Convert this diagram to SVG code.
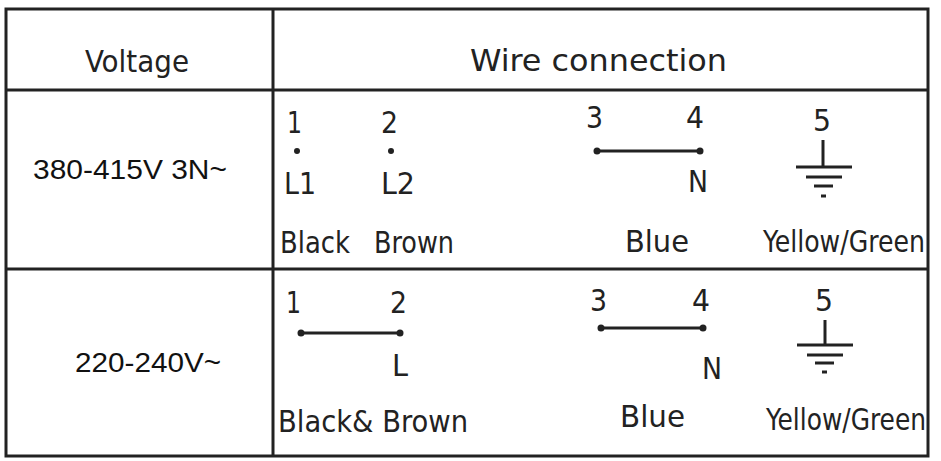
<svg xmlns="http://www.w3.org/2000/svg" width="941" height="461" viewBox="0 0 941 461">
<style>
.c{font-family:"DejaVu Sans Condensed","DejaVu Sans",sans-serif;font-size:30px;fill:#222}
.a{font-family:"Liberation Sans",Arial,sans-serif;font-size:27px;fill:#111}
.w{stroke:#222;stroke-width:3;fill:none}
.g{stroke:#222;stroke-width:3}
</style>
<rect width="941" height="461" fill="#fff"/>
<g id="table" stroke="#222" fill="none">
<rect x="6" y="9" width="922" height="447" stroke-width="3"/>
<line x1="273" y1="9" x2="273" y2="456" stroke-width="3"/>
<line x1="6" y1="90" x2="928" y2="90" stroke-width="3"/>
<line x1="6" y1="269" x2="928" y2="269" stroke-width="3"/>
</g>
<g id="header">
<text class="c" x="85" y="72" textLength="104" lengthAdjust="spacingAndGlyphs">Voltage</text>
<text class="c" x="470" y="71" textLength="257" lengthAdjust="spacingAndGlyphs">Wire  connection</text>
</g>
<g id="row1">
<text class="a" x="33" y="179" textLength="194" lengthAdjust="spacingAndGlyphs">380-415V 3N~</text>
<text class="c" x="287" y="133" textLength="15" lengthAdjust="spacingAndGlyphs">1</text>
<text class="c" x="381" y="133" textLength="17" lengthAdjust="spacingAndGlyphs">2</text>
<circle cx="297" cy="151" r="3" fill="#222"/>
<circle cx="391" cy="151" r="3" fill="#222"/>
<text class="c" x="284" y="194" textLength="32" lengthAdjust="spacingAndGlyphs">L1</text>
<text class="c" x="381" y="194" textLength="34" lengthAdjust="spacingAndGlyphs">L2</text>
<text class="c" x="280" y="253" textLength="70" lengthAdjust="spacingAndGlyphs">Black</text>
<text class="c" x="374" y="253" textLength="80" lengthAdjust="spacingAndGlyphs">Brown</text>
<text class="c" x="586" y="128" textLength="17" lengthAdjust="spacingAndGlyphs">3</text>
<text class="c" x="686" y="128" textLength="18" lengthAdjust="spacingAndGlyphs">4</text>
<text class="c" x="688" y="192" textLength="20" lengthAdjust="spacingAndGlyphs">N</text>
<text class="c" x="625" y="252" textLength="64" lengthAdjust="spacingAndGlyphs">Blue</text>
<text class="c" x="813" y="131" textLength="18" lengthAdjust="spacingAndGlyphs">5</text>
<text class="c" x="763" y="252" textLength="162" lengthAdjust="spacingAndGlyphs">Yellow/Green</text>
</g>
<g id="row2">
<text class="a" x="75" y="372" textLength="146" lengthAdjust="spacingAndGlyphs">220-240V~</text>
<text class="c" x="286" y="313" textLength="15" lengthAdjust="spacingAndGlyphs">1</text>
<text class="c" x="390" y="313" textLength="17" lengthAdjust="spacingAndGlyphs">2</text>
<text class="c" x="392" y="376" textLength="16" lengthAdjust="spacingAndGlyphs">L</text>
<text class="c" x="278" y="432" textLength="190" lengthAdjust="spacingAndGlyphs">Black&amp; Brown</text>
<text class="c" x="590" y="311" textLength="17" lengthAdjust="spacingAndGlyphs">3</text>
<text class="c" x="692" y="311" textLength="18" lengthAdjust="spacingAndGlyphs">4</text>
<text class="c" x="702" y="379" textLength="20" lengthAdjust="spacingAndGlyphs">N</text>
<text class="c" x="620" y="427" textLength="65" lengthAdjust="spacingAndGlyphs">Blue</text>
<text class="c" x="815" y="311" textLength="18" lengthAdjust="spacingAndGlyphs">5</text>
<text class="c" x="766" y="430" textLength="160" lengthAdjust="spacingAndGlyphs">Yellow/Green</text>
</g>
<g id="connectors">
<line class="w" x1="597" y1="151" x2="700" y2="151"/>
<circle cx="597" cy="151" r="3.5" fill="#222"/><circle cx="700" cy="151" r="3.5" fill="#222"/>
<line class="w" x1="301" y1="333" x2="400" y2="333"/>
<circle cx="301" cy="333" r="3.5" fill="#222"/><circle cx="400" cy="333" r="3.5" fill="#222"/>
<line class="w" x1="601" y1="328" x2="703" y2="328"/>
<circle cx="601" cy="328" r="3.5" fill="#222"/><circle cx="703" cy="328" r="3.5" fill="#222"/>
</g>
<g id="ground1">
<line class="g" x1="823" y1="140" x2="823" y2="167"/>
<line class="g" x1="796" y1="167" x2="852" y2="167"/>
<line class="g" x1="806" y1="177" x2="842" y2="177"/>
<line class="g" x1="814" y1="186" x2="833" y2="186"/>
<line class="g" x1="821" y1="196" x2="826" y2="196"/>
</g>
<g id="ground2">
<line class="g" x1="825" y1="320" x2="825" y2="345"/>
<line class="g" x1="797" y1="345" x2="853" y2="345"/>
<line class="g" x1="807" y1="355" x2="843" y2="355"/>
<line class="g" x1="815" y1="363" x2="834" y2="363"/>
<line class="g" x1="822" y1="372" x2="827" y2="372"/>
</g>
</svg>
